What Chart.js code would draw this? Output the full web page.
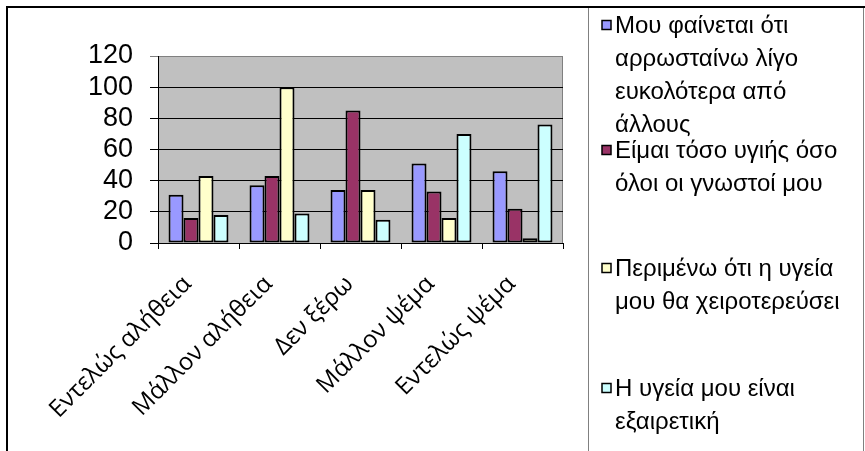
<!DOCTYPE html>
<html>
<head>
<meta charset="utf-8">
<script src="https://cdn.jsdelivr.net/npm/chart.js@4/dist/chart.umd.min.js"></script>
<style>
    html, body { margin: 0; padding: 0; background: #fff; }
    #wrap { width: 865px; height: 451px; position: relative; }
</style>
</head>
<body>
<div id="wrap"><canvas id="myChart" width="865" height="451"></canvas></div>
<script>
const categories = ["Εντελώς αλήθεια", "Μάλλον αλήθεια", "Δεν ξέρω", "Μάλλον ψέμα", "Εντελώς ψέμα"];
const seriesNames = [
    "Μου φαίνεται ότι αρρωσταίνω λίγο ευκολότερα από άλλους",
    "Είμαι τόσο υγιής όσο όλοι οι γνωστοί μου",
    "Περιμένω ότι η υγεία μου θα χειροτερεύσει",
    "Η υγεία μου είναι εξαιρετική"
];
const legendLines = [
    ["Μου φαίνεται ότι", "αρρωσταίνω λίγο", "ευκολότερα από", "άλλους"],
    ["Είμαι τόσο υγιής όσο", "όλοι οι γνωστοί μου"],
    ["Περιμένω ότι η υγεία", "μου θα χειροτερεύσει"],
    ["Η υγεία μου είναι", "εξαιρετική"]
];
const seriesA = [31, 37, 34, 51, 46];
const seriesB = [16, 43, 85, 33, 22];
const seriesC = [43, 100, 34, 16, 3];
const seriesD = [18, 19, 15, 70, 76];
const yMin = 0, yMax = 120, yStep = 20;
const colors = ["#9999FF", "#993366", "#FFFFCC", "#CCFFFF"];

// frame, plot background and the wrapped legend on the right
const decor = {
    id: "decor",
    beforeDraw(chart) {
        const c = chart.ctx, a = chart.chartArea;
        c.save();
        c.fillStyle = "#fff";
        c.fillRect(0, 0, chart.width, chart.height);
        c.fillStyle = "#C0C0C0";
        c.fillRect(a.left, a.top, a.right - a.left, a.bottom - a.top);
        c.strokeStyle = "#808080";
        c.lineWidth = 1;
        c.strokeRect(a.left + 0.5, a.top + 0.5, a.right - a.left - 1, a.bottom - a.top);
        // outer frame
        c.beginPath();
        c.moveTo(588.5, 7); c.lineTo(588.5, 451);
        c.moveTo(863.5, 7); c.lineTo(863.5, 451);
        c.stroke();
        c.strokeStyle = "#000";
        c.lineWidth = 2;
        c.beginPath();
        c.moveTo(7, 451); c.lineTo(7, 7); c.lineTo(865, 7);
        c.stroke();
        c.restore();
    },
    afterDraw(chart) {
        const c = chart.ctx;
        const starts = [25, 150, 268, 388];
        c.save();
        c.font = "24px 'Liberation Sans', Arial, sans-serif";
        c.textBaseline = "middle";
        legendLines.forEach(function (lines, i) {
            const y0 = starts[i];
            c.fillStyle = colors[i];
            c.fillRect(602, y0 - 4.5, 9, 9);
            c.strokeStyle = "#000";
            c.lineWidth = 1.5;
            c.strokeRect(602, y0 - 4.5, 9, 9);
            c.fillStyle = "#000";
            lines.forEach(function (t, j) {
                c.fillText(t, 615, y0 + 1 + j * 33);
            });
        });
        c.restore();
    }
};

function draw() {
    const ctx = document.getElementById("myChart");

    new Chart(ctx, {
        type: "bar",
        data: {
            labels: categories,
            datasets: [seriesA, seriesB, seriesC, seriesD].map(function (d, i) {
                return {
                    label: seriesNames[i],
                    data: d,
                    backgroundColor: colors[i],
                    borderColor: "#000",
                    borderWidth: 2,
                    borderSkipped: false,
                    categoryPercentage: 0.74,
                    barPercentage: 1
                };
            })
        },
        options: {
            responsive: false,
            animation: false,
            layout: { padding: { left: 78, right: 302, top: 56, bottom: 0 } },
            plugins: {
                legend: { display: false },
                tooltip: { enabled: false }
            },
            scales: {
                x: {
                    afterFit: function (s) { s.height = 208; },
                    grid: { drawOnChartArea: false, color: "#000", tickLength: 6 },
                    border: { color: "#000" },
                    ticks: {
                        minRotation: 45,
                        maxRotation: 45,
                        color: "#000",
                        padding: 21,
                        labelOffset: -11,
                        font: { family: "'Open Sans'", size: 24 }
                    }
                },
                y: {
                    min: yMin,
                    max: yMax,
                    afterFit: function (s) { s.width = 80; },
                    grid: {
                        color: function (c) { return c.tick && c.tick.value === yMax ? "#808080" : "#000"; },
                        tickLength: 8
                    },
                    border: { color: "#000" },
                    ticks: {
                        stepSize: yStep,
                        autoSkip: false,
                        color: "#000",
                        padding: 17,
                        font: { family: "'Liberation Sans', Arial, sans-serif", size: 27 }
                    }
                }
            }
        },
        plugins: [decor]
    });
}

Promise.all([
    document.fonts.load("24px 'Open Sans'", "Εντελώς"),
    document.fonts.load("24px 'Liberation Sans'", "Μου"),
    document.fonts.load("27px 'Liberation Sans'", "120")
]).then(draw, draw);
</script>
</body>
</html>
